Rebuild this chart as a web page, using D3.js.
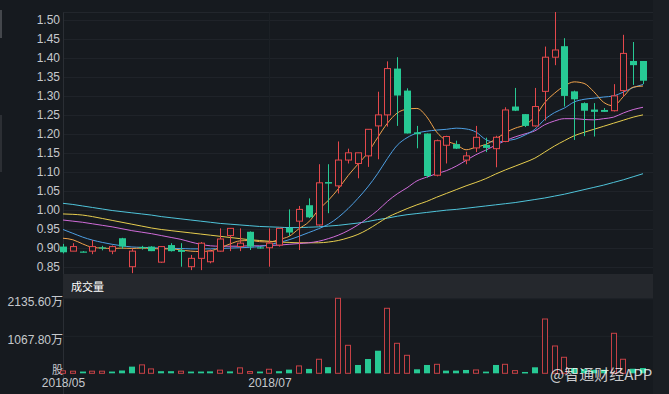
<!DOCTYPE html>
<html><head><meta charset="utf-8">
<script src="https://cdn.jsdelivr.net/npm/d3@7/dist/d3.min.js"></script>
<style>html,body{margin:0;padding:0;background:#161a1f;overflow:hidden}svg{display:block}</style>
</head><body><svg id="c" width="669" height="394"></svg>
<script>
// ---- data ----
const openP  = [0.903,0.891,0.890,0.891,0.901,0.891,0.925,0.850,0.902,0.903,0.862,0.907,0.894,0.850,0.872,0.863,0.891,0.932,0.903,0.942,0.901,0.900,0.907,0.952,0.970,1.012,0.960,1.073,1.063,1.131,1.122,1.142,1.221,1.250,1.372,1.314,1.204,1.201,1.091,1.170,1.173,1.131,1.163,1.171,1.161,1.180,1.272,1.252,1.221,1.312,1.402,1.431,1.312,1.281,1.264,1.263,1.261,1.314,1.392,1.392];
const highP  = [0.910,0.912,0.891,0.920,0.905,0.906,0.926,0.898,0.905,0.904,0.904,0.912,0.912,0.881,0.915,0.895,0.951,0.952,0.951,0.943,0.902,0.951,0.952,1.001,1.010,1.030,1.120,1.120,1.180,1.161,1.150,1.212,1.311,1.391,1.402,1.320,1.221,1.201,1.185,1.195,1.182,1.153,1.221,1.190,1.195,1.270,1.321,1.252,1.321,1.430,1.521,1.452,1.314,1.283,1.281,1.268,1.331,1.461,1.442,1.392];
const lowP   = [0.885,0.891,0.888,0.883,0.893,0.883,0.897,0.833,0.895,0.891,0.860,0.890,0.850,0.841,0.841,0.859,0.890,0.891,0.891,0.894,0.898,0.850,0.903,0.931,0.894,0.978,0.958,0.991,1.043,1.122,1.083,1.113,1.133,1.219,1.221,1.201,1.162,1.085,1.088,1.122,1.160,1.120,1.152,1.152,1.112,1.178,1.260,1.218,1.219,1.235,1.381,1.272,1.184,1.194,1.193,1.258,1.259,1.298,1.329,1.331];
const closeP = [0.888,0.903,0.888,0.903,0.899,0.903,0.903,0.891,0.900,0.891,0.903,0.891,0.889,0.872,0.912,0.891,0.923,0.951,0.912,0.903,0.899,0.912,0.951,0.940,1.001,0.980,1.071,1.069,1.131,1.150,1.150,1.212,1.250,1.372,1.301,1.201,1.199,1.089,1.182,1.193,1.161,1.142,1.191,1.163,1.191,1.263,1.261,1.221,1.272,1.402,1.421,1.300,1.291,1.261,1.258,1.258,1.300,1.412,1.381,1.340];

const ma5  = [0.925,0.921,0.910,0.901,0.899,0.898,0.899,0.898,0.899,0.898,0.897,0.897,0.894,0.891,0.890,0.892,0.900,0.910,0.918,0.919,0.916,0.915,0.922,0.930,0.950,0.968,1.000,1.025,1.055,1.090,1.120,1.150,1.190,1.228,1.255,1.265,1.267,1.245,1.205,1.182,1.172,1.158,1.165,1.172,1.186,1.203,1.215,1.224,1.245,1.282,1.307,1.326,1.337,1.333,1.311,1.283,1.274,1.298,1.323,1.326];
const ma10 = [0.948,0.938,0.928,0.920,0.914,0.909,0.905,0.902,0.901,0.900,0.899,0.898,0.898,0.897,0.897,0.897,0.898,0.899,0.900,0.901,0.903,0.908,0.914,0.921,0.930,0.940,0.950,0.962,0.980,1.003,1.030,1.060,1.095,1.135,1.170,1.190,1.202,1.207,1.210,1.212,1.215,1.213,1.205,1.185,1.178,1.182,1.186,1.197,1.212,1.238,1.256,1.268,1.284,1.291,1.294,1.297,1.300,1.310,1.322,1.330];
const ma20 = [0.973,0.970,0.967,0.963,0.959,0.955,0.950,0.945,0.941,0.937,0.932,0.927,0.922,0.915,0.909,0.905,0.904,0.904,0.904,0.905,0.905,0.906,0.907,0.909,0.911,0.913,0.917,0.924,0.933,0.945,0.960,0.978,0.998,1.022,1.042,1.058,1.076,1.086,1.095,1.103,1.115,1.130,1.145,1.157,1.170,1.182,1.192,1.200,1.208,1.224,1.234,1.240,1.240,1.238,1.237,1.240,1.244,1.255,1.264,1.270];
const ma30 = [0.989,0.988,0.986,0.982,0.977,0.972,0.967,0.962,0.957,0.952,0.948,0.945,0.942,0.939,0.936,0.933,0.930,0.927,0.924,0.921,0.919,0.917,0.915,0.914,0.913,0.913,0.913,0.915,0.919,0.926,0.935,0.948,0.964,0.980,0.992,1.003,1.013,1.022,1.033,1.043,1.053,1.063,1.072,1.082,1.094,1.105,1.115,1.125,1.136,1.152,1.168,1.182,1.195,1.204,1.212,1.220,1.228,1.236,1.244,1.250];
const ma60 = [1.017,1.014,1.010,1.006,1.002,0.998,0.995,0.992,0.989,0.986,0.982,0.979,0.976,0.973,0.970,0.967,0.964,0.962,0.960,0.958,0.956,0.955,0.954,0.953,0.953,0.954,0.955,0.957,0.959,0.962,0.965,0.969,0.974,0.978,0.983,0.987,0.990,0.993,0.996,0.999,1.001,1.004,1.007,1.010,1.013,1.016,1.019,1.023,1.027,1.031,1.036,1.041,1.047,1.053,1.059,1.065,1.072,1.079,1.087,1.095];

// volume in 万股, and bar colour (1 = red/up, 0 = green/down)
const volume = [70,60,50,60,60,50,80,190,240,125,60,60,60,50,50,55,90,55,155,50,50,115,60,105,210,125,400,175,2135.6,797,237,407,643,1851,854,512,114,237,256,76,76,95,95,48,237,256,76,38,171,1546,778,456,150,120,100,100,1139,400,130,150];
const volUp  = [1,1,0,1,1,0,0,0,1,1,0,0,1,0,0,0,1,0,1,1,0,1,0,0,1,0,1,0,1,1,0,0,0,1,1,1,0,0,1,0,0,0,1,0,0,1,1,0,0,1,1,1,0,0,0,0,1,1,0,0];

const priceTicks = [0.85,0.90,0.95,1.00,1.05,1.10,1.15,1.20,1.25,1.30,1.35,1.40,1.45,1.50];
const volTicks = [1067.8, 2135.6];
const volTickLabels = ["1067.80万","2135.60万"];
const dateTickIndex = [0, 21];
const dateTickLabels = ["2018/05","2018/07"];
const maNames = ["MA60","MA30","MA20","MA10","MA5"];
const maSeries = [ma60, ma30, ma20, ma10, ma5];
const maColors = ["#4fc4da","#e6cd4e","#d06cd9","#4d9fe3","#f0a34b"];

// ---- drawing ----
const BG = "#161a1f", RED = "#e4484c", GREEN = "#27c994", TXT = "#c6c9cd";
const L = 63, R = 653;
const svg = d3.select("#c");
svg.append("rect").attr("width",669).attr("height",394).attr("fill",BG);
svg.append("rect").attr("x",R).attr("y",0).attr("width",16).attr("height",394).attr("fill","#1a1e23");
svg.append("rect").attr("x",0).attr("y",10).attr("width",2).attr("height",28).attr("fill","#44474c");
svg.append("rect").attr("x",0).attr("y",115).attr("width",2).attr("height",57).attr("fill","#2c2f34");

const n = closeP.length;
const x = d3.scalePoint().domain(d3.range(n)).range([L, 643]);
const y = d3.scaleLinear().domain([0.85, 1.50]).range([266.7, 20]);
const yv = d3.scaleLinear().domain([0, 2135.6]).range([373.3, 298.3]);

// price grid
const gGrid = svg.append("g").attr("transform",`translate(${L},0)`)
  .call(d3.axisRight(y).tickValues(priceTicks).tickSize(R-L).tickFormat(""));
gGrid.select(".domain").remove();
gGrid.selectAll("line").attr("stroke","#1f2329").attr("shape-rendering","crispEdges");
svg.append("line").attr("x1",L).attr("x2",R).attr("y1",12.5).attr("y2",12.5).attr("stroke","#22262c");
svg.append("line").attr("x1",x(21)).attr("x2",x(21)).attr("y1",12.5).attr("y2",274).attr("stroke","#1d2127");
svg.append("line").attr("x1",L+0.5).attr("x2",L+0.5).attr("y1",12.5).attr("y2",394).attr("stroke","#2a2e34");

// price axis labels
const gY = svg.append("g").attr("transform",`translate(${L-3},0)`)
  .call(d3.axisLeft(y).tickValues(priceTicks).tickSize(0).tickFormat(d3.format(".2f")));
gY.select(".domain").remove();
gY.selectAll("text").attr("fill",TXT).attr("font-size","12px").attr("font-family","Liberation Sans, Arial, sans-serif").attr("x",0);

// MA lines
const line = d3.line().x((d,i)=>x(i)).y(d=>y(d)).curve(d3.curveMonotoneX);
svg.append("g").selectAll("path").data(maSeries).join("path")
  .attr("d", line).attr("fill","none").attr("stroke",(d,i)=>maColors[i]).attr("stroke-width",1);

// candles
const candles = svg.append("g").selectAll("g").data(d3.range(n)).join("g");
candles.append("line")
  .attr("x1",i=>Math.round(x(i))+0.5).attr("x2",i=>Math.round(x(i))+0.5)
  .attr("y1",i=>y(highP[i])).attr("y2",i=>y(lowP[i]))
  .attr("stroke",i=>closeP[i]>=openP[i]?RED:GREEN);
candles.append("rect")
  .attr("x",i=>closeP[i]>=openP[i]?Math.round(x(i))-2.5:Math.round(x(i))-3)
  .attr("width",i=>closeP[i]>=openP[i]?6:7)
  .attr("y",i=>y(Math.max(openP[i],closeP[i])))
  .attr("height",i=>Math.max(1.2, Math.abs(y(openP[i])-y(closeP[i]))))
  .attr("fill",i=>closeP[i]>=openP[i]?BG:GREEN)
  .attr("stroke",i=>closeP[i]>=openP[i]?RED:"none");

// volume header band
svg.append("rect").attr("x",L).attr("y",274).attr("width",R-L).attr("height",24.5).attr("fill","#25282d");
svg.append("text").attr("x",71).attr("y",290.5).attr("fill","#ffffff").attr("font-size","11px")
  .attr("font-family","Noto Sans CJK SC, sans-serif").text("成交量");

// volume grid + labels
const gV = svg.append("g").attr("transform",`translate(${L},0)`)
  .call(d3.axisRight(yv).tickValues(volTicks).tickSize(R-L).tickFormat(""));
gV.select(".domain").remove();
gV.selectAll("line").attr("stroke","#1f2329");
const gVl = svg.append("g").attr("transform",`translate(${L},3.5)`)
  .call(d3.axisLeft(yv).tickValues(volTicks).tickSize(0).tickFormat((d,i)=>volTickLabels[i]));
gVl.select(".domain").remove();
gVl.selectAll("text").attr("fill",TXT).attr("font-size","12px").attr("font-family","Liberation Sans, Noto Sans CJK SC, sans-serif").attr("x",0);
svg.append("text").attr("x",L).attr("y",373.5).attr("text-anchor","end").attr("fill",TXT)
  .attr("font-size","11px").attr("font-family","Noto Sans CJK SC, sans-serif").text("股");

// volume bars
svg.append("g").selectAll("rect").data(d3.range(n)).join("rect")
  .attr("x",i=>volUp[i]?Math.round(x(i))-2.5:Math.round(x(i))-3)
  .attr("width",i=>volUp[i]?5:6)
  .attr("y",i=>yv(volume[i]))
  .attr("height",i=>Math.max(1.5, yv(0)-yv(volume[i])))
  .attr("fill",i=>volUp[i]?BG:GREEN)
  .attr("stroke",i=>volUp[i]?RED:"none")
  .attr("stroke-opacity",0.85);

// date axis
const gX = svg.append("g").attr("transform","translate(0,383)")
  .call(d3.axisBottom(x).tickValues(dateTickIndex).tickSize(0).tickFormat((d,i)=>dateTickLabels[i]));
gX.select(".domain").remove();
gX.selectAll("text").attr("fill",TXT).attr("font-size","12px").attr("font-family","Liberation Sans, Arial, sans-serif").attr("dy","0.1em");

// watermark
svg.append("text").attr("x",550).attr("y",380).attr("fill","rgba(255,255,255,0.78)")
  .attr("font-size","15px").attr("font-family","Noto Sans CJK SC, sans-serif").text("@智通财经APP");
</script></body></html>
